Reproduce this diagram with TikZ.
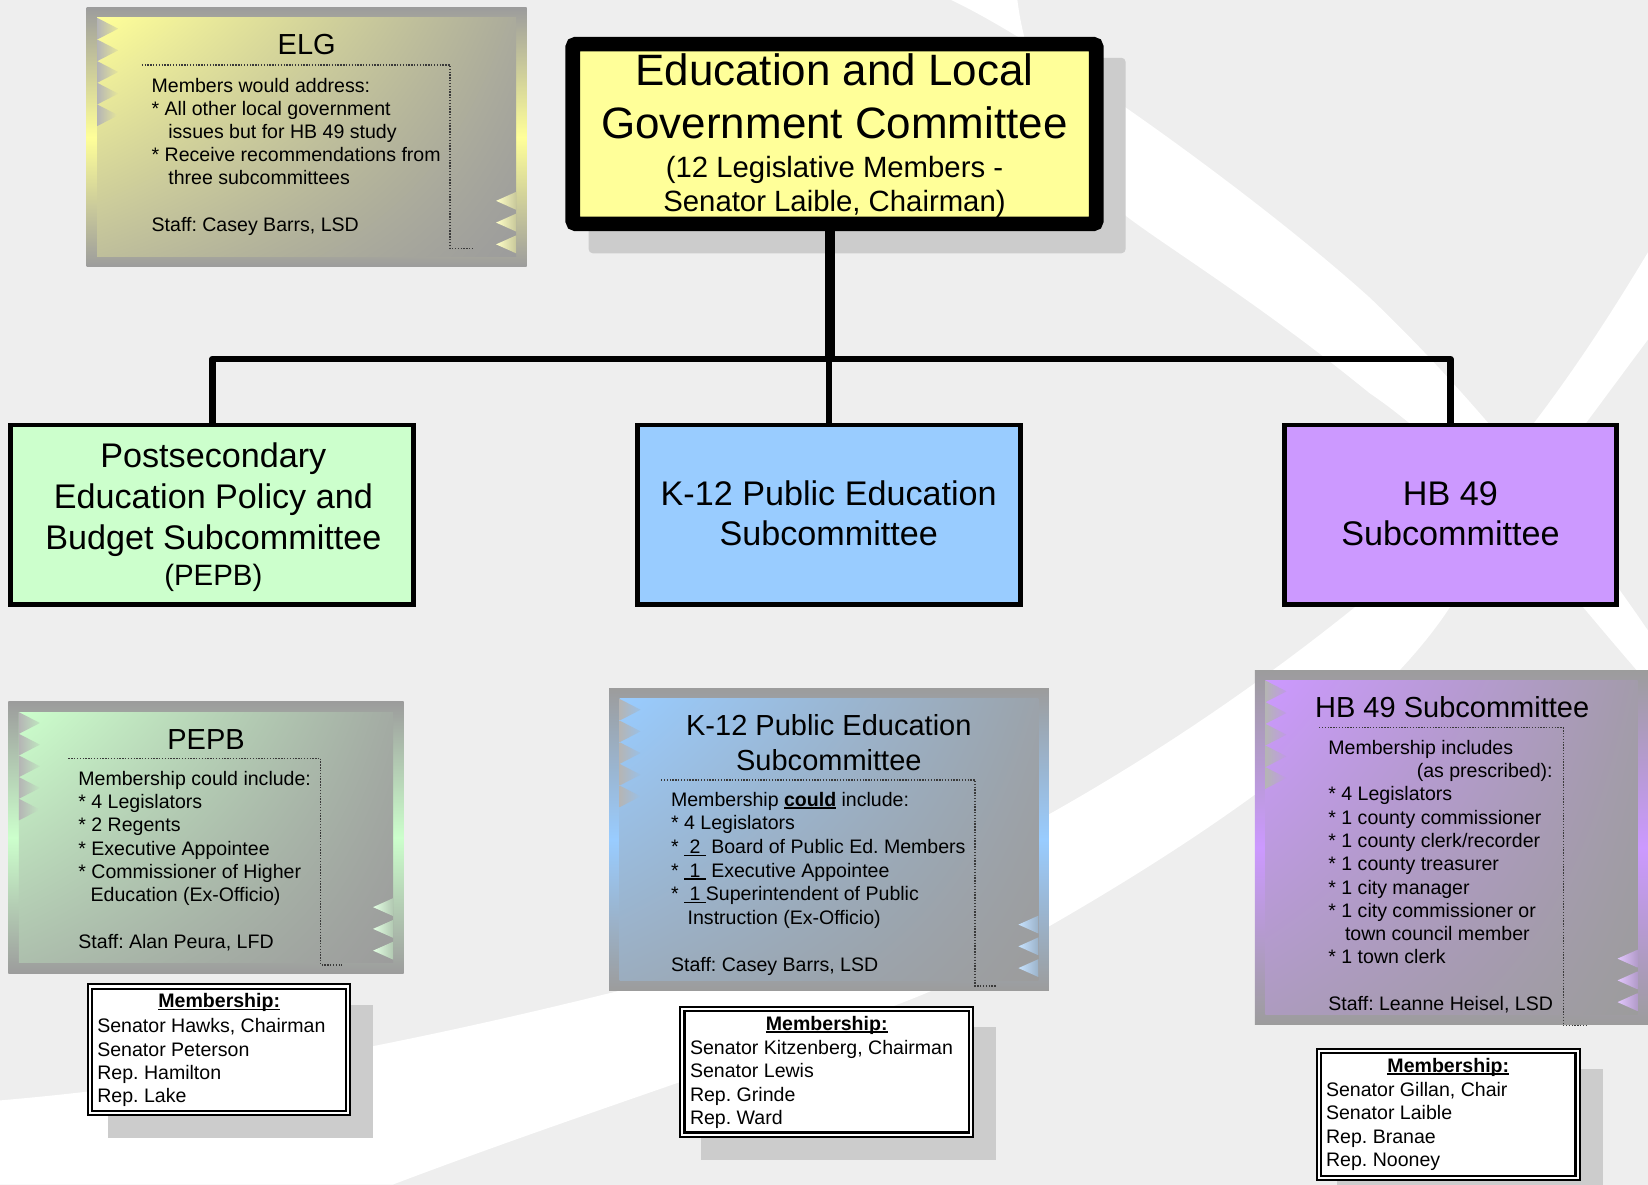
\documentclass[tikz,border=0pt]{standalone}
\usepackage{fontspec}
\setmainfont{Liberation Sans}
\usetikzlibrary{calc,shadings}
\frenchspacing

\definecolor{bg}{HTML}{EEEEEE}
\definecolor{shadowgray}{HTML}{CCCCCC}
\definecolor{framegray}{HTML}{9C9C9C}
\definecolor{dotgray}{HTML}{3A3A3A}
\definecolor{elcyellow}{HTML}{FFFF99}
\definecolor{pepbgreen}{HTML}{CCFFCC}
\definecolor{k12blue}{HTML}{99CCFF}
\definecolor{hbpurple}{HTML}{CC99FF}

% underline drawn just below the baseline
\newsavebox{\ulbox}
\newcommand{\ulin}[1]{\sbox{\ulbox}{#1}\rlap{\rule[-0.11em]{\wd\ulbox}{0.07em}}\usebox{\ulbox}}

% gradient information panel: outer frame, inner field, sawtooth markers
\newcommand{\infopanel}[5]{%
  \shade[top color=framegray, bottom color=framegray, middle color=#5]
    (#1,#2) rectangle (#3,#4);
  \shade[upper left=#5, upper right=framegray!85!#5,
         lower left=framegray!65!#5, lower right=framegray]
    ({#1+10},{#2+10}) rectangle ({#3-10},{#4-10});
  \foreach \k in {0,...,4}
    \shade[left color=framegray!75!white, right color=#5!75!framegray]
      ({#1+10},{#2+10+20.6*\k}) -- ({#1+30},{#2+20.3+20.6*\k})
      -- ({#1+10},{#2+30.6+20.6*\k}) -- cycle;
  \foreach \k in {0,1,2}
    \shade[left color=#5!55!white, right color=#5!45!framegray]
      ({#3-10},{#4-13-20.7*\k}) -- ({#3-29},{#4-21.5-20.7*\k})
      -- ({#3-10},{#4-30-20.7*\k}) -- cycle;
}

\tikzset{
  lbl/.style={inner sep=0pt, outer sep=0pt, anchor=base},
  lblw/.style={inner sep=0pt, outer sep=0pt, anchor=base west},
  fbig/.style={font=\fontsize{20.9pt}{25pt}\selectfont},
  fmid/.style={font=\fontsize{13.95pt}{16pt}\selectfont},
  fsub/.style={font=\fontsize{16.25pt}{19.5pt}\selectfont},
  fsubs/.style={font=\fontsize{14pt}{17pt}\selectfont},
  fttl/.style={font=\fontsize{13.8pt}{17pt}\selectfont},
  fbody/.style={font=\fontsize{9.3pt}{11pt}\selectfont},
  subbox/.style={draw=black, line width=2.25pt, inner sep=0pt, outer sep=0pt},
  membox/.style={draw=black, line width=1pt, double=white, double distance=1pt,
                 fill=white, inner sep=0pt, outer sep=0pt},
  dotline/.style={draw=dotgray, line width=0.65pt, dash pattern=on 0.65pt off 0.7pt},
}

\begin{document}
\begin{tikzpicture}[x=0.5pt, y=-0.5pt]
\useasboundingbox (0,0) rectangle (1568,1127);
\fill[bg] (0,0) rectangle (1568,1127);

% white background swooshes
\fill[white] (905,0) .. controls (1000,45) and (1200,190) .. (1303,283)
  .. controls (1400,375) and (1500,500) .. (1568,600)
  -- (1568,650) .. controls (1480,550) and (1400,440) .. (1303,374)
  .. controls (1200,290) and (1110,235) .. (1072,206)
  .. controls (1010,150) and (975,60) .. (968,0) -- cycle;
\fill[white] (1568,240) .. controls (1520,320) and (1420,480) .. (1290,577)
  .. controls (1150,690) and (900,860) .. (600,940)
  .. controls (400,990) and (200,1030) .. (0,1047)
  -- (0,1127) -- (374,1127)
  .. controls (550,1060) and (800,980) .. (888,942)
  .. controls (1100,830) and (1300,700) .. (1380,577)
  .. controls (1440,496) and (1510,401) .. (1568,323) -- cycle;

% main committee
\fill[shadowgray, rounded corners=2pt] (560,55) rectangle (1071,241);
\node[draw=black, line width=7pt, fill=elcyellow, rounded corners=1.5pt,
      minimum width=249pt, minimum height=85.5pt, inner sep=0pt, outer sep=0pt]
  (elc) at (794,127.5) {};
\node[lbl, fbig] (elc-1) at (794,81.5) {Education and Local};
\node[lbl, fbig] (elc-2) at (794,131.5) {Government Committee};
\node[lbl, fmid] (elc-3) at (794,169) {(12 Legislative Members -};
\node[lbl, fmid] (elc-4) at (794,201.5) {Senator Laible, Chairman)};

% subcommittees
\node[subbox, fill=pepbgreen, minimum width=191.75pt, minimum height=85.25pt]
  (pepb) at (202,489.75) {};
\node[subbox, fill=k12blue, minimum width=182.25pt, minimum height=85.25pt]
  (k12) at (788.5,489.75) {};
\node[subbox, fill=hbpurple, minimum width=157.75pt, minimum height=85.25pt]
  (hb) at (1380,489.75) {};

\node[lbl, fsub] (pepb-1) at (203,445) {Postsecondary};
\node[lbl, fsub] (pepb-2) at (203,484) {Education Policy and};
\node[lbl, fsub] (pepb-3) at (203,522.5) {Budget Subcommittee};
\node[lbl, fsubs] (pepb-4) at (203,557) {(PEPB)};
\node[lbl, fsub] (k12-1) at (788.5,480.5) {K-12 Public Education};
\node[lbl, fsub] (k12-2) at (788.5,519) {Subcommittee};
\node[lbl, fsub] (hb-1) at (1380,480.5) {HB 49};
\node[lbl, fsub] (hb-2) at (1380,519) {Subcommittee};

% organisation lines
\coordinate (hub) at (789.5,341.6);
\draw[line width=4.5pt] (elc.south -| hub) -- (hub);
\draw[line width=3.1pt, line join=round]
  (pepb.north) -- (pepb.north |- hub) -- (hb.north |- hub) -- (hb.north);
\draw[line width=3pt] (k12.north |- hub) -- (k12.north);

% ELG panel
\infopanel{82.5}{7}{501}{254}{elcyellow}
\draw[dotline] (134.8,61.8) -- (428.2,61.8) -- (428.2,236.3) -- (449.7,236.3);
\node[lbl, fttl] (elg-t) at (291.8,52.3) {ELG};
\node[lblw, fbody] (elg-1) at (144.3,88.2) {Members would address:};
\node[lblw, fbody] (elg-2) at (144.3,110.0) {* All other local government};
\node[lblw, fbody] (elg-3) at (160.2,131.9) {issues but for HB 49 study};
\node[lblw, fbody] (elg-4) at (144.3,153.7) {* Receive recommendations from};
\node[lblw, fbody] (elg-5) at (160.2,175.6) {three subcommittees};
\node[lblw, fbody] (elg-6) at (144.3,220.4) {Staff: Casey Barrs, LSD};

% PEPB panel
\infopanel{8}{667.6}{384}{926}{pepbgreen}
\draw[dotline] (65,721.5) -- (305,721.5) -- (305,918) -- (325,918);
\node[lbl, fttl] (pp-t) at (196,712.7) {PEPB};
\node[lblw, fbody] (pp-1) at (74.6,747) {Membership could include:};
\node[lblw, fbody] (pp-2) at (74.6,769) {* 4 Legislators};
\node[lblw, fbody] (pp-3) at (74.6,791) {* 2 Regents};
\node[lblw, fbody] (pp-4) at (74.6,813.5) {* Executive Appointee};
\node[lblw, fbody] (pp-5) at (74.6,835.6) {* Commissioner of Higher};
\node[lblw, fbody] (pp-6) at (86.3,858) {Education (Ex-Officio)};
\node[lblw, fbody] (pp-7) at (74.6,902) {Staff: Alan Peura, LFD};

% K-12 panel
\infopanel{579.5}{655}{998}{942.6}{k12blue}
\draw[dotline] (629,742) -- (927.7,742) -- (927.7,938) -- (948.3,938);
\node[lbl, fttl] (kp-t1) at (788.6,699.4) {K-12 Public Education};
\node[lbl, fttl] (kp-t2) at (788.6,733.3) {Subcommittee};
\node[lblw, fbody] (kp-1) at (638.5,767.5) {Membership \ulin{\textbf{could}} include:};
\node[lblw, fbody] (kp-2) at (638.5,789.7) {* 4 Legislators};
\node[lblw, fbody] (kp-3) at (638.5,812.5) {* \ulin{\ 2\ } Board of Public Ed. Members};
\node[lblw, fbody] (kp-4) at (638.5,834.8) {* \ulin{\ 1\ } Executive Appointee};
\node[lblw, fbody] (kp-5) at (638.5,857) {* \ulin{\ 1\ }Superintendent of Public};
\node[lblw, fbody] (kp-6) at (654.3,879.2) {Instruction (Ex-Officio)};
\node[lblw, fbody] (kp-7) at (638.5,924.5) {Staff: Casey Barrs, LSD};

% HB 49 panel
\infopanel{1194}{637.5}{1568}{975}{hbpurple}
\draw[dotline] (1255,692.4) -- (1487.5,692.4) -- (1487.5,976) -- (1508.8,976);
\node[lbl, fttl] (hp-t) at (1381.7,682.5) {HB 49 Subcommittee};
\node[lblw, fbody] (hp-1) at (1263.9,717.4) {Membership includes};
\node[lblw, fbody] (hp-2) at (1348,739.6) {(as prescribed):};
\node[lblw, fbody] (hp-3) at (1263.9,761.8) {* 4 Legislators};
\node[lblw, fbody] (hp-4) at (1263.9,784) {* 1 county commissioner};
\node[lblw, fbody] (hp-5) at (1263.9,806.2) {* 1 county clerk/recorder};
\node[lblw, fbody] (hp-6) at (1263.9,828.4) {* 1 county treasurer};
\node[lblw, fbody] (hp-7) at (1263.9,850.6) {* 1 city manager};
\node[lblw, fbody] (hp-8) at (1263.9,872.8) {* 1 city commissioner or};
\node[lblw, fbody] (hp-9) at (1279.7,895) {town council member};
\node[lblw, fbody] (hp-10) at (1263.9,917.2) {* 1 town clerk};
\node[lblw, fbody] (hp-11) at (1263.9,961.6) {Staff: Leanne Heisel, LSD};

% membership lists
\fill[shadowgray] (103,956) rectangle (355,1083);
\node[membox, minimum width=122.75pt, minimum height=60.2pt] (pm) at (208.25,998.8) {};
\node[lbl, fbody] (pm-t) at (208.6,959) {\ulin{\textbf{Membership:}}};
\node[lblw, fbody] (pm-1) at (92.6,982.5) {Senator Hawks, Chairman};
\node[lblw, fbody] (pm-2) at (92.6,1004.8) {Senator Peterson};
\node[lblw, fbody] (pm-3) at (92.6,1027) {Rep. Hamilton};
\node[lblw, fbody] (pm-4) at (92.6,1049) {Rep. Lake};

\fill[shadowgray] (667,977.5) rectangle (948,1104);
\node[membox, minimum width=137.35pt, minimum height=59.75pt] (km) at (786.65,1019.75) {};
\node[lbl, fbody] (km-t) at (786.6,980.6) {\ulin{\textbf{Membership:}}};
\node[lblw, fbody] (km-1) at (656.5,1003) {Senator Kitzenberg, Chairman};
\node[lblw, fbody] (km-2) at (656.5,1025.4) {Senator Lewis};
\node[lblw, fbody] (km-3) at (656.5,1047.6) {Rep. Grinde};
\node[lblw, fbody] (km-4) at (656.5,1069.8) {Rep. Ward};

\fill[shadowgray] (1272,1017.4) rectangle (1525,1140);
\node[membox, minimum width=123pt, minimum height=60.6pt] (hm) at (1378,1060.4) {};
\node[lbl, fbody] (hm-t) at (1378,1020.3) {\ulin{\textbf{Membership:}}};
\node[lblw, fbody] (hm-1) at (1261.7,1043.4) {Senator Gillan, Chair};
\node[lblw, fbody] (hm-2) at (1261.7,1065.6) {Senator Laible};
\node[lblw, fbody] (hm-3) at (1261.7,1087.8) {Rep. Branae};
\node[lblw, fbody] (hm-4) at (1261.7,1110) {Rep. Nooney};
\end{tikzpicture}
\end{document}
